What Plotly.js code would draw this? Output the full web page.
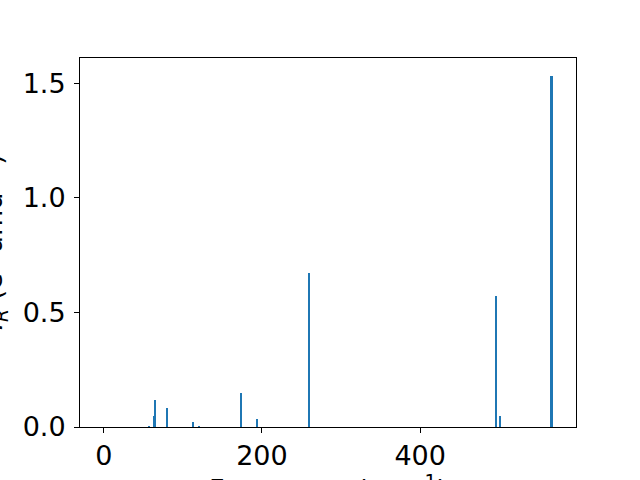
<!DOCTYPE html>
<html>
<head>
<meta charset="utf-8">
<script src="https://cdn.plot.ly/plotly-3.0.1.min.js"></script>
<style>html,body{margin:0;padding:0;background:#fff;}#chart{width:640px;height:480px;}</style>
</head>
<body>
<div id="chart"></div>
<script>
// Vibrational frequencies (cm^-1) and IR intensities
const frequencies = [57, 63, 65, 80, 113, 120, 173, 194, 259, 496, 501, 566];
const intensities = [0.004, 0.048, 0.118, 0.083, 0.022, 0.005, 0.148, 0.035, 0.670, 0.571, 0.048, 1.533];
const xTickVals = [0, 200, 400];
const yTickVals = [0, 0.5, 1.0, 1.5];
const xLabel = 'Frequency (cm<sup>−1</sup>)';
const yLabel = '<i>I<sub>R</sub></i> (e<sup>2</sup> amu<sup>−1</sup>)';

const font = {family: 'DejaVu Sans, sans-serif', size: 27, color: '#000'};

const trace = {
  type: 'bar',
  x: frequencies,
  y: intensities,
  width: 2.6,
  marker: {color: '#1f77b4', line: {width: 0}},
  hoverinfo: 'x+y'
};

const layout = {
  width: 640, height: 480,
  margin: {l: 80, r: 64, t: 58, b: 53, pad: 0},
  paper_bgcolor: '#fff', plot_bgcolor: '#fff',
  font: font,
  showlegend: false,
  bargap: 0,
  xaxis: {
    range: [-30, 597],
    tickvals: xTickVals,
    ticks: 'outside', ticklen: 5, tickwidth: 1, tickcolor: '#000',
    showline: true, linecolor: '#000', linewidth: 1, mirror: true,
    showgrid: false, zeroline: false,
    tickfont: font,
    automargin: false
  },
  yaxis: {
    range: [0, 1.61],
    tickvals: yTickVals,
    tickformat: '.1f',
    ticks: 'outside', ticklen: 5, tickwidth: 1, tickcolor: '#000',
    showline: true, linecolor: '#000', linewidth: 1, mirror: true,
    showgrid: false, zeroline: false,
    tickfont: font,
    ticklabelstandoff: 3,
    automargin: false
  },
  annotations: [
    {text: xLabel, xref: 'paper', yref: 'paper', x: 0.5, y: 0,
     xanchor: 'center', yanchor: 'top', yshift: -41, showarrow: false, font: font},
    {text: yLabel, xref: 'paper', yref: 'paper', x: 0, y: 0.5, textangle: -90,
     xanchor: 'right', yanchor: 'middle', xshift: -66, showarrow: false, font: font}
  ]
};

Plotly.newPlot('chart', [trace], layout, {displayModeBar: false, staticPlot: true});
</script>
</body>
</html>
